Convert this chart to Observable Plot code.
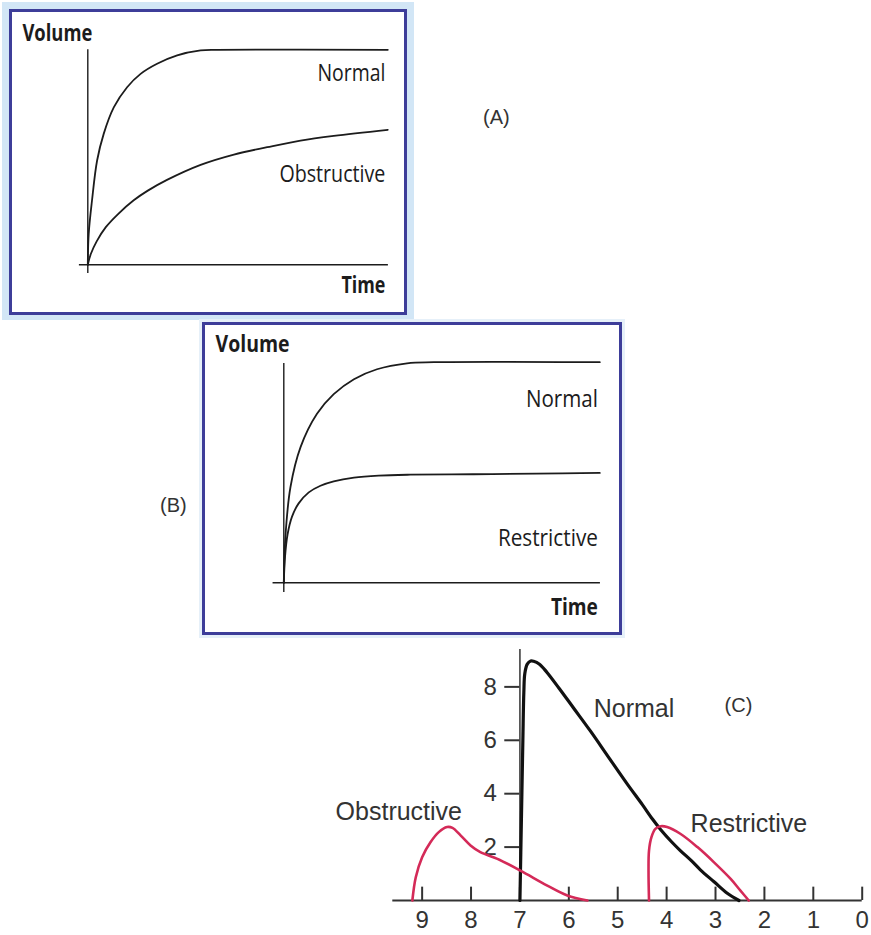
<!DOCTYPE html>
<html>
<head>
<meta charset="utf-8">
<script src="https://cdn.jsdelivr.net/npm/d3@7"></script>
<script src="https://cdn.jsdelivr.net/npm/@observablehq/plot@0.6"></script>
<style>
  html, body { margin: 0; padding: 0; background: #fff; }
  body { position: relative; width: 871px; height: 935px; overflow: hidden; font-family: "Liberation Sans", Arial, sans-serif; }
  .abs { position: absolute; }
  .halo { background: #d2e6f6; }
  .halo2 { background: #e6f0f9; }
  .box { border: 3px solid #3d3d99; background: #fff; box-sizing: border-box; }
  .tag { font-size: 20px; color: #333; line-height: 1; }
  svg { overflow: visible; }
</style>
</head>
<body>
<div class="abs halo" style="left:2px;top:2px;width:412px;height:318px"></div>
<div class="abs box" style="left:9px;top:9px;width:398px;height:306px"></div>
<div class="abs halo2" style="left:199px;top:319px;width:426px;height:319px"></div>
<div class="abs box" style="left:202px;top:322px;width:420px;height:313px"></div>
<div class="abs tag" style="left:483px;top:107px">(A)</div>
<div class="abs tag" style="left:160px;top:495px">(B)</div>
<div id="pa" class="abs" style="left:9px;top:9px"></div>
<div id="pb" class="abs" style="left:202px;top:322px"></div>
<div id="pc" class="abs" style="left:0px;top:640px"></div>
<script>
// ---------- Data ----------
// Panel A: volume-time, normalized time (0..1) and volume (0..1)
const aNormalT = [0, 0.003, 0.014, 0.031, 0.053, 0.087, 0.131, 0.176, 0.231, 0.298, 0.376, 0.431, 1.0];
const aNormalV = [0, 0.144, 0.299, 0.485, 0.609, 0.733, 0.826, 0.888, 0.935, 0.974, 0.997, 1.0, 1.0];
const aObstrT  = [0, 0.01, 0.03, 0.06, 0.1, 0.153, 0.2, 0.264, 0.376, 0.487, 0.598, 0.709, 0.82, 1.0];
const aObstrV  = [0, 0.05, 0.11, 0.175, 0.235, 0.30, 0.345, 0.395, 0.465, 0.513, 0.547, 0.578, 0.60, 0.628];
// Panel B
const bNormalT = [0, 0.005, 0.021, 0.053, 0.105, 0.158, 0.222, 0.295, 0.39, 0.475, 1.0];
const bNormalV = [0, 0.207, 0.433, 0.615, 0.766, 0.855, 0.923, 0.968, 0.995, 1.0, 1.0];
const bRestrT  = [0, 0.004, 0.012, 0.026, 0.047, 0.079, 0.116, 0.158, 0.222, 0.3, 0.4, 0.6, 0.8, 1.0];
const bRestrV  = [0, 0.12, 0.22, 0.30, 0.36, 0.41, 0.44, 0.46, 0.477, 0.486, 0.49, 0.492, 0.495, 0.498];
// Panel C: flow-volume (x = volume, reversed; y = flow)
const cNormalX = [7.0, 6.97, 6.94, 6.92, 6.9, 6.85, 6.78, 6.72, 6.6, 6.45, 6.2, 5.9, 5.56, 5.2, 4.8, 4.5, 4.29, 4.12, 3.9, 3.72, 3.5, 3.31, 3.03, 2.76, 2.52];
const cNormalY = [0, 3, 6, 7.8, 8.5, 8.85, 8.97, 8.96, 8.85, 8.55, 7.95, 7.2, 6.35, 5.4, 4.35, 3.6, 3.05, 2.65, 2.2, 1.87, 1.5, 1.15, 0.7, 0.27, 0];
const cObstrX  = [9.2, 9.13, 9.0, 8.83, 8.66, 8.49, 8.38, 8.21, 8.01, 7.81, 7.46, 6.99, 6.44, 6.03, 5.62];
const cObstrY  = [0, 0.87, 1.62, 2.18, 2.56, 2.75, 2.72, 2.43, 2.06, 1.81, 1.56, 1.12, 0.56, 0.19, 0];
const cRestrX  = [4.36, 4.37, 4.36, 4.31, 4.23, 4.12, 3.99, 3.72, 3.37, 3.03, 2.69, 2.49, 2.32];
const cRestrY  = [0, 1.12, 1.87, 2.37, 2.68, 2.78, 2.75, 2.5, 2.0, 1.43, 0.81, 0.37, 0];
const cXTicks  = [0, 1, 2, 3, 4, 5, 6, 7, 8, 9];
const cYTicks  = [2, 4, 6, 8];

// ---------- Helpers ----------
const pts = (xs, ys) => xs.map((x, i) => ({x, y: ys[i]}));
const sans = "'Open Sans', 'Noto Sans', sans-serif";
const arial = "'Liberation Sans', Arial, sans-serif";
const ink = "#1c1c1c";
const red = "#d42a58";

function fitText(svg, widths) {
  svg.querySelectorAll("text").forEach(t => {
    const w = widths[t.textContent];
    if (w) { t.setAttribute("textLength", w); t.setAttribute("lengthAdjust", "spacingAndGlyphs"); }
  });
}

// ---------- Panel A ----------
const plotA = Plot.plot({
  width: 398, height: 306,
  marginLeft: 78.3, marginRight: 19.7, marginTop: 40.3, marginBottom: 50.7,
  x: {domain: [0, 1], axis: null},
  y: {domain: [0, 1], axis: null},
  style: {background: "transparent", overflow: "visible"},
  marks: [
    Plot.ruleY([0], {x1: -0.028, x2: 1.002, stroke: ink, strokeWidth: 1.4}),
    Plot.ruleX([0], {y1: -0.04, y2: 1.0, stroke: ink, strokeWidth: 1.4}),
    Plot.line(pts(aNormalT, aNormalV), {x: "x", y: "y", curve: "catmull-rom", stroke: ink, strokeWidth: 1.8}),
    Plot.line(pts(aObstrT, aObstrV), {x: "x", y: "y", curve: "catmull-rom", stroke: ink, strokeWidth: 1.8}),
    Plot.text(["Volume"], {x: -0.218, y: 1.043, textAnchor: "start", lineAnchor: "bottom", fontSize: 23, fontWeight: 700, fontFamily: sans, fill: ink}),
    Plot.text(["Time"], {x: 0.992, y: -0.133, textAnchor: "end", lineAnchor: "bottom", fontSize: 23, fontWeight: 700, fontFamily: sans, fill: ink}),
    Plot.text(["Normal"], {x: 0.992, y: 0.855, textAnchor: "end", lineAnchor: "bottom", fontSize: 23, fontFamily: sans, fill: ink}),
    Plot.text(["Obstructive"], {x: 0.992, y: 0.383, textAnchor: "end", lineAnchor: "bottom", fontSize: 23, fontFamily: sans, fill: ink})
  ]
});
fitText(plotA, {"Volume": 70, "Time": 44, "Normal": 68, "Obstructive": 106});
document.getElementById("pa").appendChild(plotA);

// ---------- Panel B ----------
const plotB = Plot.plot({
  width: 420, height: 313,
  marginLeft: 81.3, marginRight: 22.7, marginTop: 39.7, marginBottom: 52.7,
  x: {domain: [0, 1], axis: null},
  y: {domain: [0, 1], axis: null},
  style: {background: "transparent", overflow: "visible"},
  marks: [
    Plot.ruleY([0], {x1: -0.034, x2: 1.002, stroke: ink, strokeWidth: 1.4}),
    Plot.ruleX([0], {y1: -0.044, y2: 0.994, stroke: ink, strokeWidth: 1.4}),
    Plot.line(pts(bNormalT, bNormalV), {x: "x", y: "y", curve: "catmull-rom", stroke: ink, strokeWidth: 1.8}),
    Plot.line(pts(bRestrT, bRestrV), {x: "x", y: "y", curve: "catmull-rom", stroke: ink, strokeWidth: 1.8}),
    Plot.text(["Volume"], {x: -0.216, y: 1.044, textAnchor: "start", lineAnchor: "bottom", fontSize: 24, fontWeight: 700, fontFamily: sans, fill: ink}),
    Plot.text(["Time"], {x: 0.994, y: -0.148, textAnchor: "end", lineAnchor: "bottom", fontSize: 24, fontWeight: 700, fontFamily: sans, fill: ink}),
    Plot.text(["Normal"], {x: 0.994, y: 0.795, textAnchor: "end", lineAnchor: "bottom", fontSize: 24, fontFamily: sans, fill: ink}),
    Plot.text(["Restrictive"], {x: 0.994, y: 0.165, textAnchor: "end", lineAnchor: "bottom", fontSize: 24, fontFamily: sans, fill: ink})
  ]
});
fitText(plotB, {"Volume": 74, "Time": 47, "Normal": 72, "Restrictive": 100});
document.getElementById("pb").appendChild(plotB);

// ---------- Panel C ----------
const cInk = "#333";
const plotC = Plot.plot({
  width: 871, height: 295,
  marginLeft: 392.3, marginRight: 9.3, marginTop: 9, marginBottom: 35,
  x: {domain: [9.6, 0], axis: null},
  y: {domain: [0, 9.4], axis: null},
  style: {background: "transparent", overflow: "visible"},
  marks: [
    Plot.ruleY([0], {x1: 9.6, x2: 0, stroke: cInk, strokeWidth: 2}),
    Plot.ruleX(cXTicks, {y1: 0, y2: 0.5, stroke: cInk, strokeWidth: 2}),
    Plot.text(cXTicks, {x: d => d, y: 0, dy: 20, text: d => String(d), fontSize: 24, fontFamily: arial, fill: cInk, lineAnchor: "middle"}),
    Plot.ruleX([7], {y1: 0, y2: 9.4, stroke: cInk, strokeWidth: 1.5}),
    Plot.ruleY(cYTicks, {x1: 7.31, x2: 7, stroke: cInk, strokeWidth: 2}),
    Plot.text(cYTicks, {x: 7.31, y: d => d, dx: -8, text: d => String(d), textAnchor: "end", lineAnchor: "middle", fontSize: 24, fontFamily: arial, fill: cInk}),
    Plot.line(pts(cNormalX, cNormalY), {x: "x", y: "y", curve: "catmull-rom", stroke: "#111", strokeWidth: 3.2}),
    Plot.line(pts(cObstrX, cObstrY), {x: "x", y: "y", curve: "catmull-rom", stroke: red, strokeWidth: 2.6}),
    Plot.line(pts(cRestrX, cRestrY), {x: "x", y: "y", curve: "catmull-rom", stroke: red, strokeWidth: 2.6}),
    Plot.text(["Normal"], {x: 5.49, y: 6.89, textAnchor: "start", lineAnchor: "bottom", fontSize: 25, fontFamily: arial, fill: cInk}),
    Plot.text(["Obstructive"], {x: 10.77, y: 3.0, textAnchor: "start", lineAnchor: "bottom", fontSize: 25, fontFamily: arial, fill: cInk}),
    Plot.text(["Restrictive"], {x: 3.51, y: 2.58, textAnchor: "start", lineAnchor: "bottom", fontSize: 25, fontFamily: arial, fill: cInk}),
    Plot.text(["(C)"], {x: 2.53, y: 7.3, textAnchor: "middle", lineAnchor: "middle", fontSize: 20, fontFamily: arial, fill: cInk})
  ]
});
document.getElementById("pc").appendChild(plotC);
</script>
</body>
</html>
